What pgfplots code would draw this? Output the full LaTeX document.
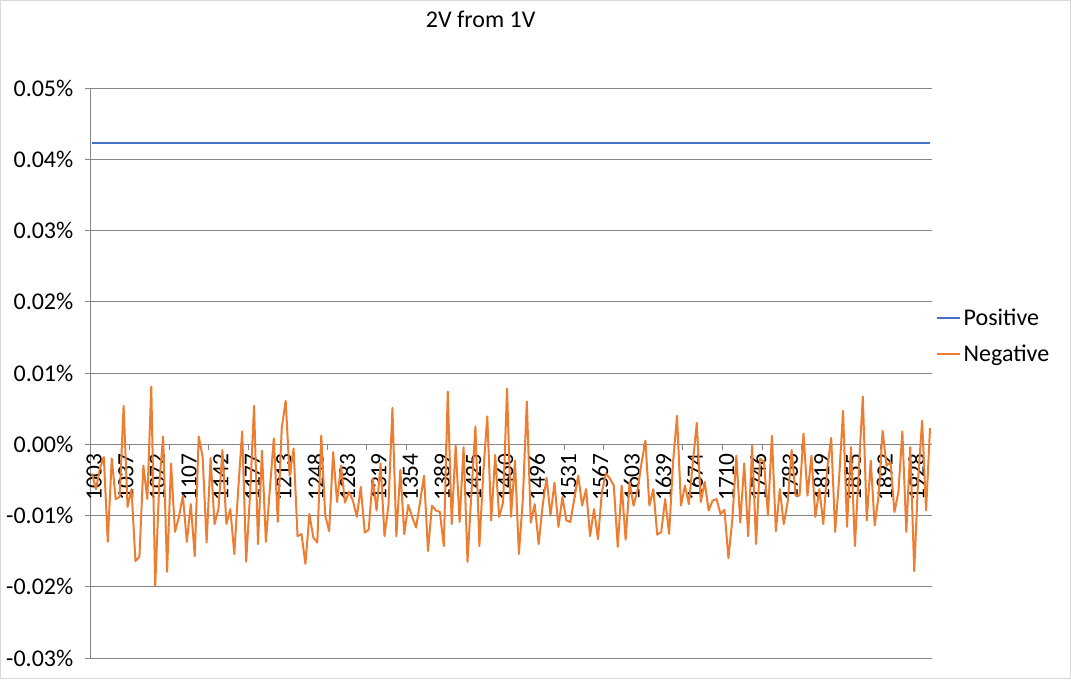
\documentclass[border=0pt]{standalone}
\usepackage{fontspec}
\setmainfont{Carlito}
\usepackage{pgfplots}
\pgfplotsset{compat=1.18}
\usepackage{pgfplotstable}

\definecolor{posblue}{HTML}{4472C4}
\definecolor{negorange}{HTML}{ED7D31}
\definecolor{gridgray}{HTML}{868686}
\definecolor{framegray}{HTML}{D9D9D9}

% tick labels above the lines, as Excel draws them
\pgfplotsset{
	layers/labels on top/.define layer set={
		axis background,axis grid,axis ticks,axis lines,pre main,main,axis tick labels,axis descriptions,axis foreground
	}{},
}

% Positive is flat over the whole range
\pgfplotstableread{
k v
0 0.0423
212 0.0423
}\posdata

\pgfplotstableread{
k v
0 -0.0041
1 -0.0063
2 -0.0034
3 -0.0018
4 -0.0137
5 -0.0020
6 -0.0077
7 -0.0074
8 0.0054
9 -0.0088
10 -0.0063
11 -0.0164
12 -0.0158
13 -0.0030
14 -0.0077
15 0.0081
16 -0.0199
17 -0.0058
18 0.0011
19 -0.0179
20 -0.0027
21 -0.0123
22 -0.0102
23 -0.0072
24 -0.0137
25 -0.0084
26 -0.0157
27 0.0011
28 -0.0018
29 -0.0138
30 -0.0019
31 -0.0112
32 -0.0091
33 -0.0008
34 -0.0112
35 -0.0091
36 -0.0154
37 -0.0063
38 0.0018
39 -0.0165
40 -0.0070
41 0.0054
42 -0.0140
43 -0.0009
44 -0.0137
45 -0.0063
46 0.0008
47 -0.0109
48 0.0022
49 0.0061
50 -0.0044
51 -0.0006
52 -0.0129
53 -0.0126
54 -0.0168
55 -0.0098
56 -0.0131
57 -0.0138
58 0.0012
59 -0.0100
60 -0.0122
61 -0.0011
62 -0.0081
63 -0.0030
64 -0.0082
65 -0.0067
66 -0.0079
67 -0.0102
68 -0.0060
69 -0.0124
70 -0.0120
71 -0.0048
72 -0.0093
73 -0.0027
74 -0.0129
75 -0.0086
76 0.0051
77 -0.0129
78 -0.0036
79 -0.0126
80 -0.0085
81 -0.0102
82 -0.0117
83 -0.0081
84 -0.0044
85 -0.0150
86 -0.0086
87 -0.0093
88 -0.0095
89 -0.0143
90 0.0074
91 -0.0112
92 -0.0002
93 -0.0109
94 -0.0004
95 -0.0165
96 -0.0067
97 0.0025
98 -0.0143
99 -0.0039
100 0.0039
101 -0.0107
102 -0.0015
103 -0.0102
104 -0.0082
105 0.0078
106 -0.0102
107 -0.0023
108 -0.0154
109 -0.0077
110 0.0060
111 -0.0110
112 -0.0084
113 -0.0140
114 -0.0086
115 -0.0047
116 -0.0100
117 -0.0054
118 -0.0116
119 -0.0074
120 -0.0107
121 -0.0109
122 -0.0077
123 -0.0044
124 -0.0086
125 -0.0063
126 -0.0129
127 -0.0091
128 -0.0133
129 -0.0067
130 -0.0041
131 -0.0048
132 -0.0058
133 -0.0144
134 -0.0058
135 -0.0134
136 -0.0053
137 -0.0086
138 -0.0065
139 -0.0027
140 0.0005
141 -0.0086
142 -0.0063
143 -0.0127
144 -0.0123
145 -0.0077
146 -0.0126
147 -0.0025
148 0.0040
149 -0.0086
150 -0.0058
151 -0.0084
152 -0.0025
153 0.0030
154 -0.0081
155 -0.0053
156 -0.0093
157 -0.0079
158 -0.0077
159 -0.0098
160 -0.0092
161 -0.0160
162 -0.0105
163 -0.0016
164 -0.0110
165 -0.0027
166 -0.0129
167 -0.0002
168 -0.0140
169 -0.0020
170 -0.0025
171 -0.0100
172 0.0012
173 -0.0122
174 -0.0063
175 -0.0112
176 -0.0081
177 -0.0008
178 -0.0072
179 -0.0072
180 0.0015
181 -0.0072
182 -0.0016
183 -0.0102
184 -0.0063
185 -0.0112
186 -0.0034
187 0.0009
188 -0.0123
189 -0.0048
190 0.0047
191 -0.0116
192 -0.0004
193 -0.0143
194 -0.0034
195 0.0067
196 -0.0107
197 -0.0023
198 -0.0114
199 -0.0072
200 0.0019
201 -0.0030
202 -0.0025
203 -0.0095
204 -0.0067
205 0.0018
206 -0.0123
207 -0.0004
208 -0.0178
209 -0.0048
210 0.0033
211 -0.0093
212 0.0023
}\negdata

\begin{document}
\begin{tikzpicture}
	% chart area, 1071 x 679 px at 0.75pt per px
	\draw[framegray, line width=0.75pt] (0.375pt,0.375pt) rectangle (802.875pt,508.875pt);
	\begin{axis}[
			set layers=labels on top,
			at={(67.5pt,15.75pt)}, anchor=south west,
			scale only axis,
			width=631.5pt, height=427.5pt,
			xmin=-0.5, xmax=212.5,
			ymin=-0.03, ymax=0.05,
			scaled y ticks=false,
			axis x line=middle,
			axis y line=left,
			axis line style={-, draw=gridgray, line width=0.75pt},
			hide obscured x ticks=false,
			hide obscured y ticks=false,
			ytick={-0.03,-0.02,-0.01,0,0.01,0.02,0.03,0.04,0.05},
			yticklabels={-0.03\%,-0.02\%,-0.01\%,0.00\%,0.01\%,0.02\%,0.03\%,0.04\%,0.05\%},
			ymajorgrids=true,
			grid style={draw=gridgray, line width=0.75pt},
			tick style={draw=gridgray, line width=0.75pt},
			tick align=outside,
			major tick length=4pt,
			yticklabel style={font=\fontsize{18}{21}\selectfont, xshift=-5pt},
			xtick={9.5,19.5,...,209.5},
			xticklabels={},
			extra x ticks={0,8,...,208},
			extra x tick labels={1003,1037,1072,1107,1142,1177,1213,1248,1283,1319,1354,1389,1425,1460,1496,1531,1567,1603,1639,1674,1710,1746,1783,1819,1855,1892,1928},
			% rotated frame: xshift moves down, yshift moves left
			extra x tick style={major tick length=0pt, xticklabel style={rotate=90, anchor=east, xshift=-3.3pt, yshift=-1.7pt, font=\fontsize{17.5}{20}\selectfont}},
			title={2V from 1V},
			title style={at={(axis description cs:0.464,1.107)}, anchor=center, font=\fontsize{18}{21}\selectfont},
			legend style={at={(axis description cs:1.0,0.565)}, anchor=west, draw=none, fill=none,
				font=\fontsize{18}{21}\selectfont, row sep=9pt},
			legend cell align=left,
		]

		\addplot[color=posblue, line width=1.5pt] table[x=k, y=v] {\posdata};
		\addlegendentry{Positive}

		\addplot[color=negorange, line width=1.5pt, line join=round] table[x=k, y=v] {\negdata};
		\addlegendentry{Negative}

	\end{axis}
\end{tikzpicture}
\end{document}
